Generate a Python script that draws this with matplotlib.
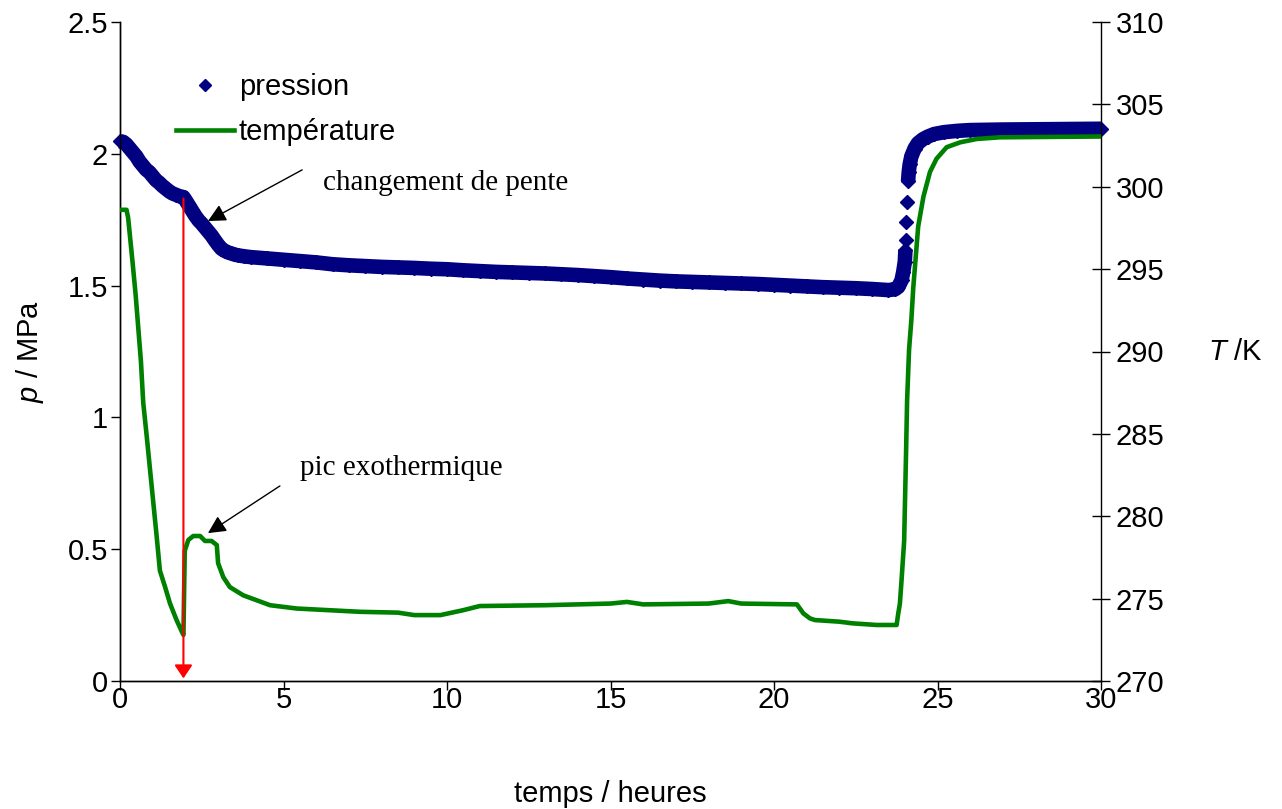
import numpy as np
import matplotlib
matplotlib.use("Agg")
import matplotlib.pyplot as plt
from matplotlib.lines import Line2D
from matplotlib.ticker import FuncFormatter

plt.rcParams['font.family'] = ['Liberation Sans', 'DejaVu Sans']
plt.rcParams['mathtext.fontset'] = 'custom'
plt.rcParams['mathtext.it'] = 'Liberation Sans:italic'
plt.rcParams['mathtext.rm'] = 'Liberation Sans'

# ---------------- data ----------------
# pressure, continuous part before the jump
p_time_a = [0.0, 0.1, 0.2, 0.3, 0.4, 0.5, 0.6, 0.7, 0.8, 0.9, 1.0, 1.1, 1.2, 1.3,
            1.4, 1.5, 1.6, 1.7, 1.8, 1.9, 1.94, 2.0, 2.1, 2.2, 2.3, 2.4, 2.5, 2.6,
            2.7, 2.8, 2.9, 3.0, 3.1, 3.2, 3.3, 3.4, 3.5, 3.6, 3.8, 4.0, 4.5, 5.0,
            5.5, 6.0, 6.5, 7.0, 7.5, 8.0, 8.5, 9.0, 9.5, 10.0, 10.5, 11.0, 11.5,
            12.0, 12.5, 13.0, 13.5, 14.0, 14.5, 15.0, 15.5, 16.0, 16.5, 17.0, 17.5,
            18.0, 18.5, 19.0, 19.5, 20.0, 20.5, 21.0, 21.5, 22.0, 22.5, 23.0, 23.5,
            23.7, 23.8, 23.9, 23.95, 24.0, 24.02]
p_val_a = [2.048, 2.045, 2.035, 2.020, 2.005, 1.990, 1.970, 1.955, 1.940, 1.930,
           1.915, 1.900, 1.890, 1.878, 1.868, 1.858, 1.850, 1.845, 1.840, 1.836,
           1.836, 1.825, 1.805, 1.785, 1.765, 1.748, 1.735, 1.720, 1.705, 1.690,
           1.672, 1.655, 1.640, 1.632, 1.626, 1.622, 1.618, 1.615, 1.611, 1.608,
           1.603, 1.598, 1.593, 1.588, 1.581, 1.577, 1.574, 1.571, 1.569, 1.567,
           1.564, 1.562, 1.558, 1.555, 1.552, 1.550, 1.548, 1.546, 1.543, 1.540,
           1.536, 1.532, 1.527, 1.523, 1.519, 1.516, 1.514, 1.512, 1.510, 1.508,
           1.506, 1.503, 1.500, 1.497, 1.494, 1.492, 1.490, 1.487, 1.483, 1.486,
           1.495, 1.520, 1.550, 1.590, 1.635]
# pressure, isolated points during the jump
p_time_jump = [24.04, 24.05, 24.06]
p_val_jump = [1.673, 1.742, 1.818]
# pressure, continuous part after the jump
p_time_b = [24.10, 24.12, 24.15, 24.2, 24.3, 24.4, 24.55, 24.7, 24.9, 25.2, 25.6,
            26.0, 27.0, 28.0, 29.0, 30.0]
p_val_b = [1.895, 1.930, 1.960, 1.990, 2.020, 2.040, 2.055, 2.065, 2.075, 2.082,
           2.087, 2.090, 2.092, 2.093, 2.094, 2.095]

# temperature
T_time = [0.0, 0.2, 0.25, 0.28, 0.38, 0.48, 0.56, 0.64, 0.71, 0.82, 0.92, 1.02,
          1.12, 1.22, 1.38, 1.53, 1.73, 1.89, 1.94, 1.98, 2.09, 2.24, 2.45, 2.6,
          2.8, 2.96, 3.0, 3.16, 3.36, 3.77, 4.59, 5.4, 7.34, 8.5, 9.0, 9.8, 10.5,
          11.0, 13.0, 15.0, 15.5, 16.0, 18.0, 18.6, 19.0, 20.7, 20.9, 21.1, 21.25,
          22.0, 22.4, 23.14, 23.75, 23.8, 23.85, 23.9, 23.98, 24.04, 24.07, 24.13,
          24.2, 24.26, 24.41, 24.57, 24.77, 24.97, 25.28, 25.7, 26.2, 26.9, 30.0]
T_val = [298.6, 298.6, 298.1, 297.5, 295.5, 293.4, 291.4, 289.4, 286.9, 284.8,
         282.8, 280.8, 278.8, 276.7, 275.7, 274.7, 273.7, 273.0, 272.8, 277.9,
         278.56, 278.8, 278.8, 278.5, 278.5, 278.25, 277.15, 276.3, 275.7, 275.2,
         274.6, 274.4, 274.2, 274.15, 274.0, 274.0, 274.3, 274.55, 274.6, 274.7,
         274.8, 274.65, 274.7, 274.85, 274.7, 274.65, 274.1, 273.8, 273.7, 273.6,
         273.5, 273.4, 273.4, 274.1, 274.7, 276.1, 278.5, 284.0, 287.0, 290.1,
         291.9, 293.9, 297.6, 299.4, 300.9, 301.7, 302.4, 302.7, 302.9, 303.0,
         303.05]

x_ticks = [0, 5, 10, 15, 20, 25, 30]
p_ticks = [0, 0.5, 1, 1.5, 2, 2.5]
T_ticks = [270, 275, 280, 285, 290, 295, 300, 305, 310]

exo_time = 1.94        # time of the red arrow
exo_top = 1.83

# ---------------- figure ----------------
W, H = 1282, 809
fig = plt.figure(figsize=(W / 100, H / 100), dpi=100)
L, R, T, B = 120, 1101, 22, 681
ax = fig.add_axes([L / W, 1 - B / H, (R - L) / W, (B - T) / H])
ax2 = ax.twinx()

navy = '#000080'
green = '#008000'
FS = 21

ax.set_xlim(0, 30)
ax.set_ylim(0, 2.5)
ax2.set_ylim(270, 310)
ax.set_xticks(x_ticks)
ax.set_yticks(p_ticks)
ax2.set_yticks(T_ticks)
fmt = FuncFormatter(lambda v, pos: '%g' % v)
ax.xaxis.set_major_formatter(fmt)
ax.yaxis.set_major_formatter(fmt)
ax2.yaxis.set_major_formatter(fmt)

for a in (ax, ax2):
    a.spines['top'].set_visible(False)
    for s in a.spines.values():
        s.set_linewidth(1.0)
        s.set_color('black')
ax.spines['right'].set_visible(False)
ax.tick_params(axis='both', direction='out', length=6.5, width=1.0,
               labelsize=FS, pad=2)
ax.tick_params(axis='x', pad=-3)
ax2.tick_params(axis='y', direction='inout', length=13, width=1.0,
                labelsize=FS, pad=4)

# pressure: dense diamond band
band_lw = 10.5
ax.plot(p_time_a, p_val_a, color=navy, lw=band_lw, solid_joinstyle='round',
        solid_capstyle='butt', clip_on=False, zorder=3)
ax.plot(p_time_b, p_val_b, color=navy, lw=band_lw, solid_joinstyle='round',
        solid_capstyle='butt', clip_on=False, zorder=3)
for tt, pp in ((p_time_a, p_val_a), (p_time_jump, p_val_jump), (p_time_b, p_val_b)):
    ax.plot(tt, pp, ls='none', marker='D', ms=7, color=navy, mec=navy,
            clip_on=False, zorder=4)

# temperature
ax2.plot(T_time, T_val, color=green, lw=3.3, solid_joinstyle='round', zorder=3)

# red arrow
ax2.annotate('', xy=(exo_time, 0.01), xycoords=ax.transData,
             xytext=(exo_time, exo_top), textcoords=ax.transData,
             arrowprops=dict(arrowstyle='-|>,head_length=0.8,head_width=0.54',
                             mutation_scale=10, color='#FF0000', lw=1.5,
                             shrinkA=0, shrinkB=0), zorder=6)

# annotations
serif = ['Liberation Serif', 'DejaVu Serif']
aprops = dict(arrowstyle='-|>,head_length=1.08,head_width=0.54', mutation_scale=10,
              color='black', lw=1.0, shrinkA=0, shrinkB=0)
ax2.annotate('', xy=(2.69, 1.745), xycoords=ax.transData,
             xytext=(5.57, 1.939), textcoords=ax.transData, arrowprops=aprops,
             zorder=6)
ax2.annotate('', xy=(2.69, 0.561), xycoords=ax.transData,
             xytext=(4.89, 0.74), textcoords=ax.transData, arrowprops=aprops,
             zorder=6)
ax.text(6.21, 1.889, 'changement de pente', family=serif, fontsize=FS,
        ha='left', va='center')
ax.text(5.5, 0.808, 'pic exothermique', family=serif, fontsize=FS,
        ha='left', va='center')

# legend
handles = [Line2D([], [], ls='none', marker='D', ms=6.5, color=navy),
           Line2D([], [], color=green, lw=3.3)]
leg = ax2.legend(handles, ['pression', 'température'], loc='upper left',
                 bbox_to_anchor=(176 / W, 1 - 73 / H), bbox_transform=fig.transFigure,
                 frameon=False, fontsize=FS, handlelength=2.0, handletextpad=0.15,
                 labelspacing=0.6, borderpad=0, borderaxespad=0)

# axis labels
ax.set_xlabel('temps / heures', fontsize=FS, va='center')
ax.xaxis.set_label_coords(0.5, -(794 - B) / (B - T))
ax.set_ylabel(r'$p$ / MPa', fontsize=FS, va='center')
ax.yaxis.set_label_coords((30 - L) / (R - L), 0.5)
ax2.set_ylabel(r'$T$ /K', fontsize=FS, rotation=0, va='center', ha='left')
ax2.yaxis.set_label_coords((1208 - L) / (R - L), 0.5)

fig.savefig('out.png', dpi=100)
